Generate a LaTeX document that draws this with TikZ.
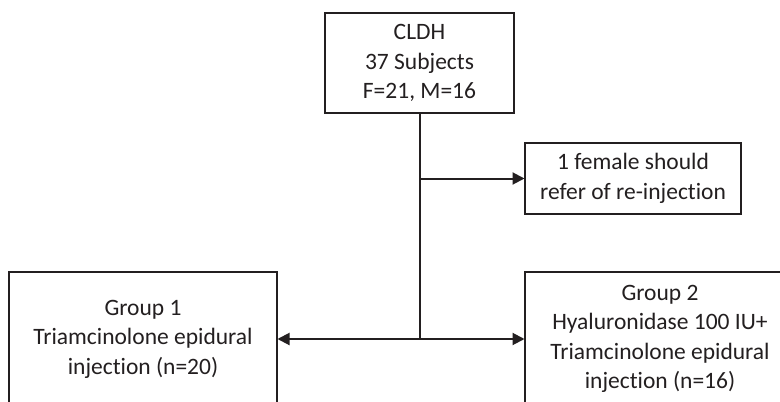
\documentclass[tikz,border=0pt]{standalone}
\usepackage{fontspec}
\setmainfont{Carlito}[Ligatures=NoCommon]
\usetikzlibrary{arrows.meta}
\definecolor{ink}{HTML}{231F20}
\begin{document}
\begin{tikzpicture}[x=1pt,y=-1pt,
  box/.style={draw=ink, line width=2pt, text=ink, align=center, inner sep=0pt,
    font=\fontsize{23.5}{29.5}\selectfont},
  link/.style={draw=ink, line width=2pt},
  flow/.style={link, -{Triangle[length=12pt,width=12pt]}, shorten >=-0.5pt}]
  \path[clip,use as bounding box] (0,0) rectangle (780,402);
  \fill[white] (0,0) rectangle (780,402);

  % boxes
  \node[box, minimum width=189pt, minimum height=100pt] (top) at (419.5,63)
    {CLDH\\37 Subjects\\F=21, M=16};
  \node[box, minimum width=216pt, minimum height=71pt] (side) at (633,178.5)
    {1 female should\\refer of re-injection};
  \node[box, minimum width=268pt, minimum height=134pt] (g1) at (143,339)
    {Group 1\\Triamcinolone epidural\\injection (n=20)};
  \node[box, minimum width=270pt, minimum height=134pt] (g2) at (660,339)
    {Group 2\\Hyaluronidase 100 IU+\\Triamcinolone epidural\\injection (n=16)};

  % junctions on the trunk
  \coordinate (j1) at (top.south |- side.west);
  \coordinate (j2) at (top.south |- g1.east);

  % connectors
  \draw[link] (top.south) -- (j2);
  \draw[flow] (j1) -- (side.west);
  \draw[flow] (j2) -- (g1.east);
  \draw[flow] (j2) -- (g2.west);
\end{tikzpicture}
\end{document}
